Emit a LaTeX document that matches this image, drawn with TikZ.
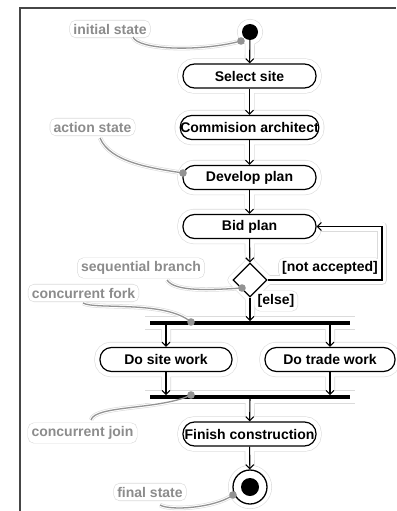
\documentclass[tikz,border=0pt]{standalone}
\usepackage{fontspec}
\setmainfont{Liberation Sans}
\usetikzlibrary{arrows.meta,shapes.geometric}
\pgfdeclarelayer{haloA}
\pgfdeclarelayer{haloB}
\pgfsetlayers{haloA,haloB,main}

% Soft outline traced around every element: the same paths are drawn
% once in grey and once, slightly thinner, in white on top.
\newcommand\halopaths[2]{%
  \foreach \n in {select,arch,develop,bid,site,trade,finish}
    \path[draw=#1, fill=#1, line width=#2, rounded corners=11.5]
      (\n.south west) rectangle (\n.north east);
  \path[draw=#1, fill=#1, line width=#2] (init) circle (8) (final) circle (17);
  \path[draw=#1, fill=#1, line width=#2, line join=round]
    (dec.north) -- (dec.east) -- (dec.south) -- (dec.west) -- cycle;
  \path[draw=#1, fill=#1, line width=#2]
    (fork.south west) rectangle (fork.north east)
    (join.south west) rectangle (join.north east);
  \path[draw=#1, line width=#2]
    (init) -- (select) (select) -- (arch) (arch) -- (develop)
    (develop) -- (bid) (bid) -- (dec) (dec) -- (fork)
    (site |- fork.south) -- (site) (trade |- fork.south) -- (trade)
    (site) -- (site |- join.north) (trade) -- (trade |- join.north)
    (join) -- (finish) (finish) -- (final);
  \path[draw=#1, line width=#2, line join=round] (dec.east) -- (loop) |- (bid.east);
  \foreach \n in {notacc,else,n1,n2,n3,n4,n5,n6}
    \path[draw=#1, fill=#1, line width=#2-4.5, rounded corners=4]
      (\n.south west) rectangle (\n.north east);
  \path[draw=#1, line width=#2-5.5]
    (c1) .. controls (138,50) and (200,52) .. (p1)
    (c2) .. controls (110,162) and (150,168) .. (p2)
    (c3) .. controls (175,292) and (210,290) .. (p3)
    (c4) .. controls (95,310) and (165,300) .. (p4)
    (c5) .. controls (95,405) and (160,410) .. (p5)
    (c6) .. controls (170,511) and (215,508) .. (p6);
}

\begin{document}
\begin{tikzpicture}[x=1pt,y=-1pt,
  txt/.style={font=\fontsize{14}{16}\selectfont\bfseries},
  act/.style={txt, draw, line width=1.2pt, rounded corners=11.5pt,
    minimum width=133, minimum height=24, inner sep=0pt},
  arr/.style={line width=1.1pt, -{Straight Barb[length=4pt,width=8pt,line width=1.1pt]}},
  note/.style={txt, text=gray!90, inner sep=1pt},
  guard/.style={txt, inner sep=1pt},
  pointer/.style={draw=gray!85, line width=1.3pt},
  pin/.style={fill=gray!85},
  bar/.style={fill=black, minimum width=200, minimum height=3.2, inner sep=0pt},
  frame/.style={draw=gray!55!black, line width=1.4pt}
]
\useasboundingbox (0,0) rectangle (396,511);
\draw[frame] (20,511) -- (20,8) -- (396,8);

% activity nodes
\node[circle, fill, minimum size=16, inner sep=0pt] (init) at (250,32) {};
\node[act] (select)  at (249.5,76)  {Select site};
\node[act] (arch)    at (249.5,127.5) {Commision architect};
\node[act] (develop) at (249.5,177.5) {Develop plan};
\node[act] (bid)     at (249.5,226.5) {Bid plan};
\node[diamond, draw, line width=1.2pt, minimum size=34, inner sep=0pt] (dec) at (250,280) {};
\node[bar] (fork) at (250,323) {};
\node[act, minimum width=132] (site)  at (166,359.5) {Do site work};
\node[act, minimum width=130] (trade) at (330,359.5) {Do trade work};
\node[bar] (join) at (250,397) {};
\node[act] (finish) at (249.5,434) {Finish construction};
\node[circle, draw, line width=1.3pt, minimum size=34, inner sep=0pt] (final) at (250,487) {};
\node[circle, fill, minimum size=18, inner sep=0pt] (finaldot) at (250,487) {};

% guards
\node[guard] (notacc) at (330,268) {[not accepted]};
\node[guard] (else) at (276,301) {[else]};

% control flow
\draw[arr] (init) -- (select);
\draw[arr] (select) -- (arch);
\draw[arr] (arch) -- (develop);
\draw[arr] (develop) -- (bid);
\draw[arr] (bid) -- (dec);
\coordinate (loop) at (382,280);
\draw[arr] (dec.east) -- (loop) |- (bid.east);
\draw[arr] (dec) -- (fork);
\draw[arr] (site |- fork.south) -- (site);
\draw[arr] (trade |- fork.south) -- (trade);
\draw[arr] (site) -- (site |- join.north);
\draw[arr] (trade) -- (trade |- join.north);
\draw[arr] (join) -- (finish);
\draw[arr] (finish) -- (final);

% annotations
\node[note] (n1) at (110,29)  {initial state};
\node[note] (n2) at (92.5,127) {action state};
\node[note] (n3) at (141,268) {sequential branch};
\node[note] (n4) at (83.5,293) {concurrent fork};
\node[note] (n5) at (82.5,433) {concurrent join};
\node[note] (n6) at (150,492) {final state};

\coordinate (c1) at (133,37);
\coordinate (c2) at (100,138);
\coordinate (c3) at (167,280);
\coordinate (c4) at (83,303);
\coordinate (c5) at (91,420);
\coordinate (c6) at (160,505);
\coordinate (p1) at (241,41);
\coordinate (p2) at (183,173);
\coordinate (p3) at (242,288);
\coordinate (p4) at (191,322);
\coordinate (p5) at (191,395);
\coordinate (p6) at (233,495);

\draw[pointer] (c1) .. controls (138,50) and (200,52) .. (p1);
\draw[pointer] (c2) .. controls (110,162) and (150,168) .. (p2);
\draw[pointer] (c3) .. controls (175,292) and (210,290) .. (p3);
\draw[pointer] (c4) .. controls (95,310) and (165,300) .. (p4);
\draw[pointer] (c5) .. controls (95,405) and (160,410) .. (p5);
\draw[pointer] (c6) .. controls (170,511) and (215,508) .. (p6);
\foreach \p in {p1,p2,p3,p4,p5,p6} \fill[pin] (\p) circle (3.8);

\begin{pgfonlayer}{haloA}\halopaths{gray!28}{10}\end{pgfonlayer}
\begin{pgfonlayer}{haloB}\halopaths{white}{8.8}\end{pgfonlayer}
\end{tikzpicture}
\end{document}
